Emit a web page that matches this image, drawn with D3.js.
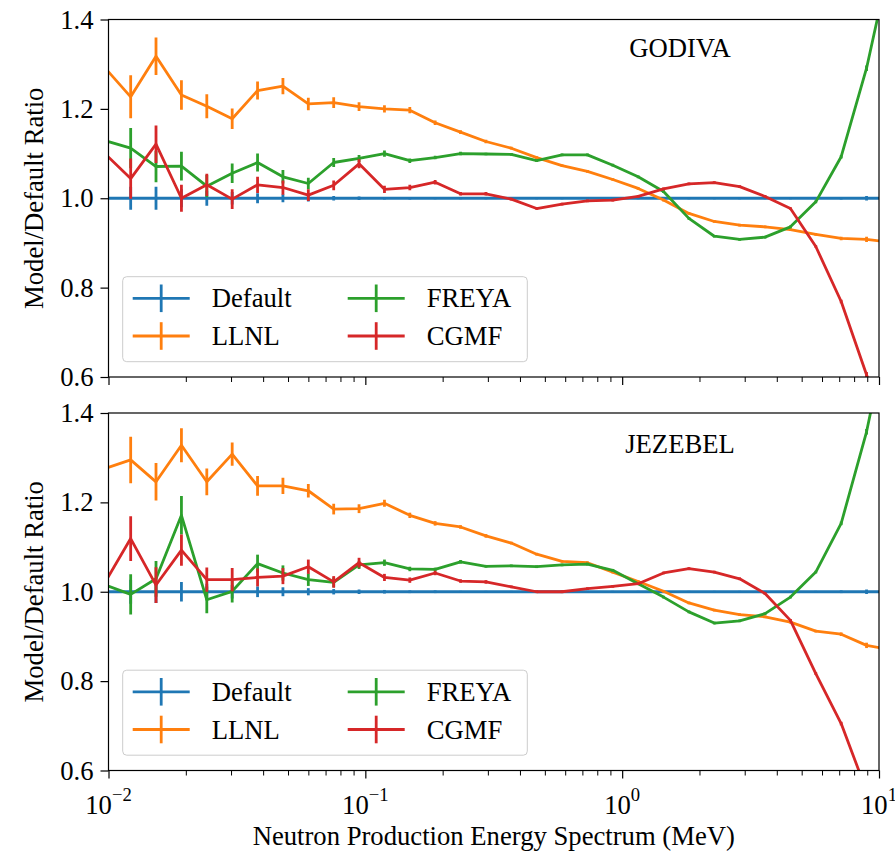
<!DOCTYPE html>
<html>
<head>
<meta charset="utf-8">
<script src="https://cdn.jsdelivr.net/npm/d3@7"></script>
<style>
  body { margin: 0; background: #fff; }
  text { font-family: "Liberation Serif", "DejaVu Serif", serif; }
</style>
</head>
<body>
<svg id="chart"></svg>
<script>
// bin energies (MeV)
var energy = [0.009716, 0.01220, 0.01531, 0.01923, 0.02414, 0.03031, 0.03805, 0.04777,
    0.05998, 0.07530, 0.09452, 0.1187, 0.1490, 0.1870, 0.2348, 0.2948, 0.3701, 0.4646,
    0.5833, 0.7324, 0.9194, 1.154, 1.449, 1.819, 2.284, 2.867, 3.600, 4.520, 5.674,
    7.124, 8.944, 11.23];

var seriesNames = ["Default", "LLNL", "FREYA", "CGMF"];
var seriesColors = ["#1f77b4", "#ff7f0e", "#2ca02c", "#d62728"];

var majorTicks = [0.01, 0.1, 1, 10];
var majorExps = ["\u22122", "\u22121", "0", "1"];
var yTicks = [0.6, 0.8, 1.0, 1.2, 1.4];

// GODIVA
var godivaDefault = [1, 1, 1, 1, 1, 1, 1, 1, 1, 1, 1, 1, 1, 1, 1, 1, 1, 1, 1, 1, 1, 1, 1, 1, 1, 1, 1, 1, 1, 1, 1, 1];
var godivaDefaultErr = [0.03, 0.026, 0.026, 0.02, 0.017, 0.014, 0.011, 0.009, 0.007, 0.005, 0.004, 0.003, 0.003, 0.002, 0.002, 0.002,
    0.002, 0.002, 0.002, 0.002, 0.002, 0.002, 0.002, 0.002, 0.002, 0.002, 0.002, 0.002, 0.002, 0.003, 0.005, 0.006];
var godivaLLNL = [1.291, 1.227, 1.318, 1.231, 1.206, 1.178, 1.241, 1.251, 1.211, 1.214, 1.205, 1.200, 1.197, 1.169, 1.148, 1.127,
    1.112, 1.091, 1.073, 1.060, 1.042, 1.022, 0.996, 0.966, 0.948, 0.940, 0.936, 0.930, 0.919, 0.910, 0.908, 0.901];
var godivaLLNLErr = [0.05, 0.048, 0.042, 0.033, 0.027, 0.023, 0.02, 0.018, 0.014, 0.012, 0.01, 0.008, 0.007, 0.005, 0.004, 0.004,
    0.003, 0.003, 0.003, 0.003, 0.003, 0.003, 0.003, 0.003, 0.003, 0.003, 0.003, 0.003, 0.003, 0.004, 0.006, 0.008];
var godivaFREYA = [1.129, 1.112, 1.071, 1.072, 1.027, 1.056, 1.080, 1.048, 1.033, 1.080, 1.089, 1.100, 1.084, 1.091, 1.100, 1.099,
    1.098, 1.084, 1.097, 1.097, 1.074, 1.048, 1.015, 0.955, 0.915, 0.908, 0.913, 0.936, 0.992, 1.093, 1.291, 1.55];
var godivaFREYAErr = [0.05, 0.045, 0.035, 0.032, 0.025, 0.022, 0.02, 0.015, 0.013, 0.01, 0.008, 0.007, 0.005, 0.004, 0.004, 0.003,
    0.003, 0.003, 0.003, 0.003, 0.003, 0.003, 0.003, 0.003, 0.003, 0.003, 0.003, 0.003, 0.003, 0.004, 0.006, 0.008];
var godivaCGMF = [1.099, 1.044, 1.121, 1.000, 1.030, 0.998, 1.030, 1.024, 1.007, 1.029, 1.077, 1.020, 1.024, 1.036, 1.010, 1.010,
    0.998, 0.977, 0.987, 0.994, 0.996, 1.004, 1.021, 1.032, 1.035, 1.026, 1.004, 0.977, 0.892, 0.769, 0.605, 0.44];
var godivaCGMFErr = [0.05, 0.045, 0.042, 0.03, 0.025, 0.022, 0.018, 0.016, 0.013, 0.011, 0.01, 0.008, 0.006, 0.005, 0.004, 0.004,
    0.003, 0.003, 0.003, 0.003, 0.003, 0.003, 0.003, 0.003, 0.003, 0.003, 0.003, 0.003, 0.003, 0.004, 0.006, 0.008];

// JEZEBEL
var jezDefault = [1, 1, 1, 1, 1, 1, 1, 1, 1, 1, 1, 1, 1, 1, 1, 1, 1, 1, 1, 1, 1, 1, 1, 1, 1, 1, 1, 1, 1, 1, 1, 1];
var jezDefaultErr = [0.03, 0.027, 0.025, 0.022, 0.018, 0.015, 0.012, 0.01, 0.008, 0.006, 0.005, 0.004, 0.003, 0.003, 0.002, 0.002,
    0.002, 0.002, 0.002, 0.002, 0.002, 0.002, 0.002, 0.002, 0.002, 0.002, 0.002, 0.002, 0.002, 0.003, 0.005, 0.006];
var jezLLNL = [1.276, 1.295, 1.246, 1.328, 1.246, 1.308, 1.237, 1.237, 1.226, 1.185, 1.186, 1.198, 1.171, 1.153, 1.145, 1.125,
    1.109, 1.084, 1.068, 1.065, 1.044, 1.023, 1.001, 0.975, 0.959, 0.949, 0.944, 0.932, 0.912, 0.905, 0.880, 0.870];
var jezLLNLErr = [0.055, 0.052, 0.042, 0.038, 0.03, 0.026, 0.022, 0.018, 0.015, 0.012, 0.01, 0.008, 0.006, 0.005, 0.004, 0.004,
    0.003, 0.003, 0.003, 0.003, 0.003, 0.003, 0.003, 0.003, 0.003, 0.003, 0.003, 0.003, 0.003, 0.004, 0.006, 0.008];
var jezFREYA = [1.015, 0.994, 1.029, 1.171, 0.982, 1.001, 1.063, 1.042, 1.027, 1.021, 1.060, 1.065, 1.051, 1.050, 1.067, 1.057,
    1.058, 1.056, 1.060, 1.062, 1.048, 1.018, 0.988, 0.955, 0.930, 0.935, 0.951, 0.988, 1.044, 1.153, 1.358, 1.63];
var jezFREYAErr = [0.05, 0.045, 0.04, 0.043, 0.03, 0.025, 0.02, 0.017, 0.014, 0.011, 0.009, 0.007, 0.005, 0.004, 0.004, 0.003,
    0.003, 0.003, 0.003, 0.003, 0.003, 0.003, 0.003, 0.003, 0.003, 0.003, 0.003, 0.003, 0.003, 0.004, 0.006, 0.008];
var jezCGMF = [1.022, 1.119, 1.015, 1.093, 1.027, 1.027, 1.032, 1.035, 1.056, 1.022, 1.065, 1.032, 1.026, 1.042, 1.024, 1.022,
    1.011, 1.000, 1.000, 1.007, 1.012, 1.018, 1.042, 1.052, 1.044, 1.029, 0.996, 0.936, 0.817, 0.705, 0.554, 0.404];
var jezCGMFErr = [0.055, 0.05, 0.04, 0.035, 0.027, 0.026, 0.02, 0.018, 0.016, 0.013, 0.011, 0.008, 0.006, 0.005, 0.004, 0.004,
    0.003, 0.003, 0.003, 0.003, 0.003, 0.003, 0.003, 0.003, 0.003, 0.003, 0.003, 0.003, 0.003, 0.004, 0.006, 0.008];

var panels = [
    { label: "GODIVA", top: 19.5, labelY: 56.7,
      values: [godivaDefault, godivaLLNL, godivaFREYA, godivaCGMF],
      errors: [godivaDefaultErr, godivaLLNLErr, godivaFREYAErr, godivaCGMFErr] },
    { label: "JEZEBEL", top: 413, labelY: 453.3,
      values: [jezDefault, jezLLNL, jezFREYA, jezCGMF],
      errors: [jezDefaultErr, jezLLNLErr, jezFREYAErr, jezCGMFErr] }
];

var size = { width: 895, height: 859, left: 108.5, right: 879, panelHeight: 357.5 };
var fontSize = 26.67;

var svg = d3.select("#chart")
    .attr("width", size.width)
    .attr("height", size.height);

svg.append("rect").attr("width", size.width).attr("height", size.height).attr("fill", "#fff");

var x = d3.scaleLog()
    .domain([0.01, 10])
    .range([size.left, size.right]);

var minorTicks = x.ticks().filter(function(t) { return majorTicks.indexOf(t) < 0; });

panels.forEach(function(p, pi) {
    var y = d3.scaleLinear()
        .domain([0.6, 1.4])
        .range([p.top + size.panelHeight, p.top]);

    var clipId = "clip" + pi;
    svg.append("clipPath").attr("id", clipId)
        .append("rect")
        .attr("x", size.left).attr("y", p.top)
        .attr("width", size.right - size.left).attr("height", size.panelHeight);

    var plot = svg.append("g").attr("clip-path", "url(#" + clipId + ")");

    var line = d3.line()
        .x(function(d) { return x(d[0]); })
        .y(function(d) { return y(d[1]); });

    p.values.forEach(function(vals, si) {
        var pts = energy.map(function(e, i) { return [e, vals[i], p.errors[si][i]]; });
        var g = plot.append("g");
        g.append("path")
            .datum(pts)
            .attr("d", line)
            .attr("fill", "none")
            .attr("stroke", seriesColors[si])
            .attr("stroke-width", 2.8)
            .attr("stroke-linejoin", "round");
        g.selectAll("line.err")
            .data(pts)
            .enter()
            .append("line")
            .attr("class", "err")
            .attr("x1", function(d) { return x(d[0]); })
            .attr("x2", function(d) { return x(d[0]); })
            .attr("y1", function(d) { return y(d[1] - d[2]); })
            .attr("y2", function(d) { return y(d[1] + d[2]); })
            .attr("stroke", seriesColors[si])
            .attr("stroke-width", 2.8);
    });

    // y axis
    var yAxis = d3.axisLeft(y).tickValues(yTicks).tickFormat(d3.format(".1f"))
        .tickSize(8).tickPadding(7).tickSizeOuter(0);
    var gy = svg.append("g")
        .attr("transform", "translate(" + size.left + ",0)")
        .call(yAxis);
    gy.select(".domain").remove();
    gy.selectAll(".tick line").attr("stroke", "#000").attr("stroke-width", 1.2);
    gy.selectAll(".tick text")
        .style("font-size", fontSize + "px")
        .attr("fill", "#000");

    // x axis ticks
    var bottom = p.top + size.panelHeight;
    var gx = svg.append("g")
        .attr("transform", "translate(0," + bottom + ")")
        .call(d3.axisBottom(x).tickValues(majorTicks).tickSize(8).tickFormat(""));
    gx.select(".domain").remove();
    gx.selectAll(".tick line").attr("stroke", "#000").attr("stroke-width", 1.2);

    var gxm = svg.append("g")
        .attr("transform", "translate(0," + bottom + ")")
        .call(d3.axisBottom(x).tickValues(minorTicks).tickSize(5).tickFormat(""));
    gxm.select(".domain").remove();
    gxm.selectAll(".tick line").attr("stroke", "#000").attr("stroke-width", 1);

    if (pi === panels.length - 1) {
        majorTicks.forEach(function(t, i) {
            var txt = svg.append("text")
                .attr("x", x(t))
                .attr("y", bottom + 43)
                .attr("text-anchor", "middle")
                .style("font-size", fontSize + "px");
            txt.append("tspan").text("10");
            txt.append("tspan")
                .attr("dy", -13)
                .style("font-size", (fontSize * 0.7) + "px")
                .text(majorExps[i]);
        });
    }

    // frame
    svg.append("rect")
        .attr("x", size.left).attr("y", p.top)
        .attr("width", size.right - size.left).attr("height", size.panelHeight)
        .attr("fill", "none")
        .attr("stroke", "#000")
        .attr("stroke-width", 1.2);

    // y label
    svg.append("text")
        .attr("transform", "translate(43," + (p.top + size.panelHeight / 2) + ") rotate(-90)")
        .attr("text-anchor", "middle")
        .style("font-size", fontSize + "px")
        .text("Model/Default Ratio");

    // panel label
    svg.append("text")
        .attr("x", 680)
        .attr("y", p.labelY)
        .attr("text-anchor", "middle")
        .style("font-size", fontSize + "px")
        .text(p.label);

    // legend
    var lg = svg.append("g").attr("transform", "translate(122.7," + (p.top + 257.2) + ")");
    lg.append("rect")
        .attr("width", 404.6).attr("height", 85)
        .attr("rx", 4).attr("ry", 4)
        .attr("fill", "#fff").attr("fill-opacity", 0.8)
        .attr("stroke", "#cccccc").attr("stroke-width", 1);

    seriesNames.forEach(function(name, si) {
        var col = Math.floor(si / 2), row = si % 2;
        var cx = 10 + col * 215;
        var cy = 21.6 + row * 37.7;
        var item = lg.append("g").attr("transform", "translate(" + cx + "," + cy + ")");
        item.append("line")
            .attr("x1", 0).attr("x2", 57).attr("y1", 0).attr("y2", 0)
            .attr("stroke", seriesColors[si]).attr("stroke-width", 2.8);
        item.append("line")
            .attr("x1", 28.5).attr("x2", 28.5).attr("y1", -13.8).attr("y2", 13.8)
            .attr("stroke", seriesColors[si]).attr("stroke-width", 2.8);
        item.append("text")
            .attr("x", 79)
            .attr("y", 9)
            .style("font-size", fontSize + "px")
            .text(name);
    });
});

// x label
svg.append("text")
    .attr("x", (size.left + size.right) / 2)
    .attr("y", 845)
    .attr("text-anchor", "middle")
    .style("font-size", fontSize + "px")
    .text("Neutron Production Energy Spectrum (MeV)");
</script>
</body>
</html>
